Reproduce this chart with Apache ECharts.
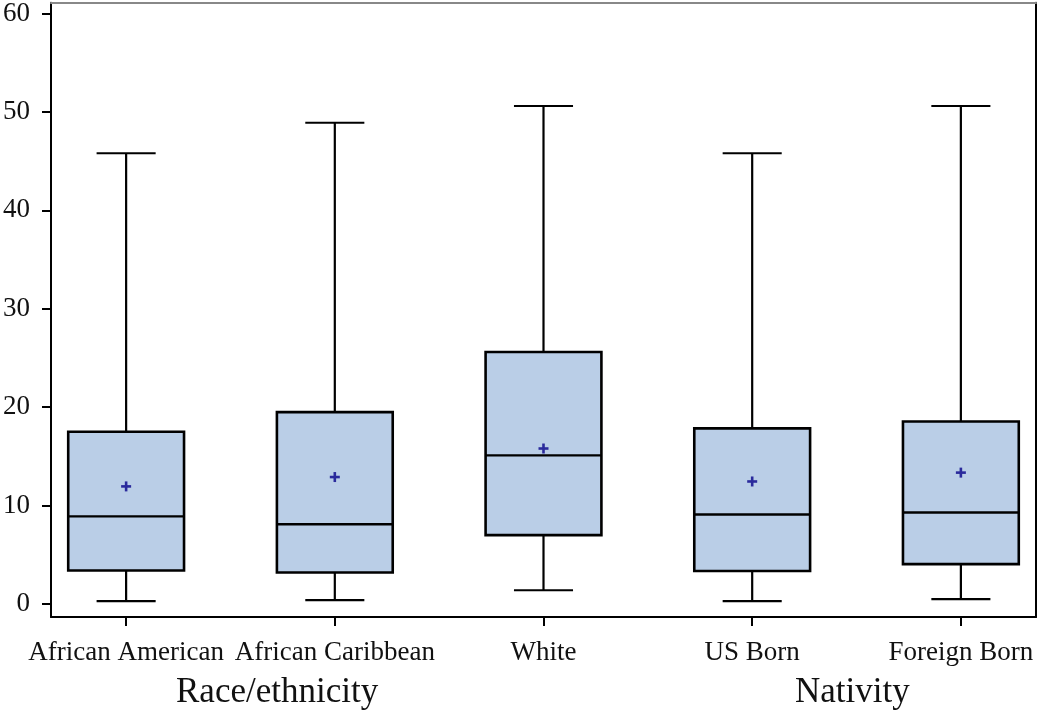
<!DOCTYPE html>
<html>
<head>
<meta charset="utf-8">
<script src="https://cdn.jsdelivr.net/npm/echarts@6/dist/echarts.min.js"></script>
<style>html,body{margin:0;padding:0;background:#fff}#c{width:1050px;height:711px}</style>
</head>
<body>
<div id="c"></div>
<script>
const categories = ['African American', 'African Caribbean', 'White', 'US Born', 'Foreign Born'];
const mins    = [0.3, 0.4, 1.4, 0.3, 0.5];
const q1s     = [3.4, 3.2, 7.0, 3.35, 4.05];
const medians = [8.9, 8.1, 15.1, 9.1, 9.3];
const q3s     = [17.5, 19.5, 25.6, 17.85, 18.55];
const maxs    = [45.8, 48.9, 50.6, 45.8, 50.6];
const means   = [11.95, 12.9, 15.8, 12.45, 13.35];
const yTicks  = [0, 10, 20, 30, 40, 50, 60];
const groupLabels = ['Race/ethnicity', 'Nativity'];

const data = categories.map((c, i) => [i, mins[i], q1s[i], medians[i], q3s[i], maxs[i], means[i]]);
const FONT = '"Liberation Serif", "DejaVu Serif", serif';

const chart = echarts.init(document.getElementById('c'), null, {renderer: 'canvas'});

function renderItem(params, api) {
  const i = api.value(0);
  const band = api.coord([1, 0])[0] - api.coord([0, 0])[0];
  const bw = band * 0.555;
  const cw = bw * 0.51;
  const pMin = api.coord([i, api.value(1)]);
  const pQ1 = api.coord([i, api.value(2)]);
  const pMed = api.coord([i, api.value(3)]);
  const pQ3 = api.coord([i, api.value(4)]);
  const pMax = api.coord([i, api.value(5)]);
  const pMean = api.coord([i, api.value(6)]);
  const cx = pMed[0];
  const ls = {stroke: '#000', lineWidth: 2.2};
  const m = 5;
  return {
    type: 'group',
    children: [
      {type: 'line', shape: {x1: cx, y1: pMax[1], x2: cx, y2: pQ3[1]}, style: ls},
      {type: 'line', shape: {x1: cx - cw / 2, y1: pMax[1], x2: cx + cw / 2, y2: pMax[1]}, style: ls},
      {type: 'line', shape: {x1: cx, y1: pQ1[1], x2: cx, y2: pMin[1]}, style: ls},
      {type: 'line', shape: {x1: cx - cw / 2, y1: pMin[1], x2: cx + cw / 2, y2: pMin[1]}, style: ls},
      {type: 'rect', shape: {x: cx - bw / 2, y: pQ3[1], width: bw, height: pQ1[1] - pQ3[1]},
        style: {fill: '#bacee7', stroke: '#000', lineWidth: 2.6}},
      {type: 'line', shape: {x1: cx - bw / 2, y1: pMed[1], x2: cx + bw / 2, y2: pMed[1]}, style: {stroke: '#000', lineWidth: 2.4}},
      {type: 'line', shape: {x1: pMean[0] - m, y1: pMean[1], x2: pMean[0] + m, y2: pMean[1]}, style: {stroke: '#2a2a9c', lineWidth: 2.6}},
      {type: 'line', shape: {x1: pMean[0], y1: pMean[1] - m, x2: pMean[0], y2: pMean[1] + m}, style: {stroke: '#2a2a9c', lineWidth: 2.6}}
    ]
  };
}

const option = {
  backgroundColor: '#fff',
  animation: false,
  grid: {left: 48, right: 14, top: 1, bottom: 94, containLabel: false},
  xAxis: [{
    type: 'value', min: -0.36, max: 4.36, position: 'bottom',
    axisLine: {show: true, onZero: false, lineStyle: {color: '#000', width: 2}},
    axisTick: {show: true, length: 9, customValues: categories.map((c, i) => i), lineStyle: {color: '#000', width: 2}},
    axisLabel: {show: true, customValues: categories.map((c, i) => i), formatter: v => categories[Math.round(v)],
      margin: 22, fontFamily: FONT, fontSize: 27, color: '#111'},
    splitLine: {show: false}
  }, {
    type: 'value', min: -0.36, max: 4.36, position: 'top',
    axisLine: {show: true, onZero: false, lineStyle: {color: '#888', width: 2}},
    axisTick: {show: false}, axisLabel: {show: false}, splitLine: {show: false}
  }],
  yAxis: [{
    type: 'value', min: -1.32, max: 61.1, position: 'left',
    axisLine: {show: true, onZero: false, lineStyle: {color: '#000', width: 2}},
    axisTick: {show: true, length: 9, customValues: yTicks, lineStyle: {color: '#000', width: 2}},
    axisLabel: {show: true, customValues: yTicks, margin: 21, fontFamily: FONT, fontSize: 27, color: '#111'},
    splitLine: {show: false}
  }, {
    type: 'value', min: -1.32, max: 61.1, position: 'right',
    axisLine: {show: true, onZero: false, lineStyle: {color: '#000', width: 2}},
    axisTick: {show: false}, axisLabel: {show: false}, splitLine: {show: false}
  }],
  series: [{
    type: 'custom',
    renderItem: renderItem,
    xAxisIndex: 0, yAxisIndex: 0,
    encode: {x: 0, y: [1, 2, 3, 4, 5, 6]},
    data: data,
    clip: false
  }],
  graphic: [
    {type: 'text', left: 176, top: 675, style: {text: groupLabels[0], fontFamily: FONT, fontSize: 35, fill: '#111'}},
    {type: 'text', left: 795, top: 675, style: {text: groupLabels[1], fontFamily: FONT, fontSize: 35, fill: '#111'}}
  ]
};
chart.setOption(option);
</script>
</body>
</html>
